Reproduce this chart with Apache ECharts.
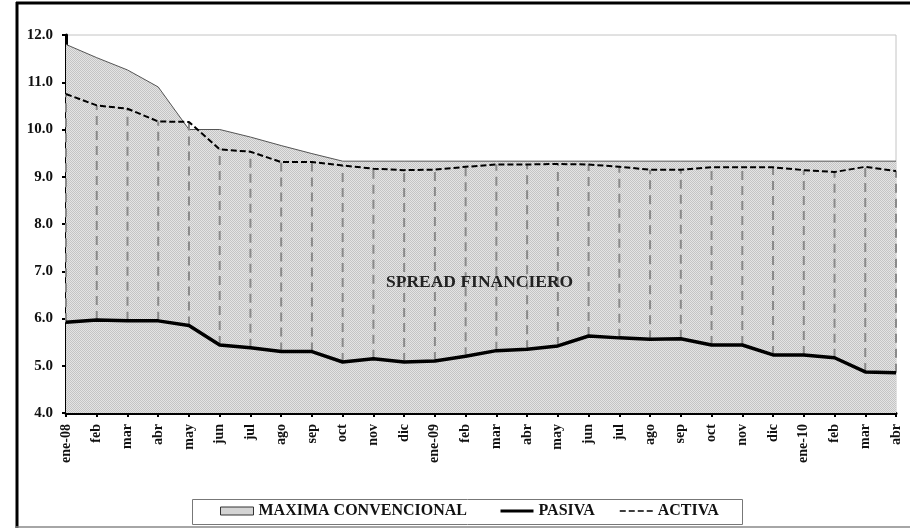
<!DOCTYPE html>
<html>
<head>
<meta charset="utf-8">
<script src="https://cdn.jsdelivr.net/npm/echarts@6/dist/echarts.min.js"></script>
<style>
  html, body { margin: 0; padding: 0; background: #fff; }
  #chart { width: 910px; height: 528px; }
</style>
</head>
<body>
<div id="chart"></div>
<script>
const months = ['ene-08', 'feb', 'mar', 'abr', 'may', 'jun', 'jul', 'ago', 'sep', 'oct', 'nov', 'dic',
    'ene-09', 'feb', 'mar', 'abr', 'may', 'jun', 'jul', 'ago', 'sep', 'oct', 'nov', 'dic',
    'ene-10', 'feb', 'mar', 'abr']

const maxima = [11.8, 11.52, 11.26, 10.9, 10.0, 10.0, 9.84, 9.66, 9.49, 9.33, 9.33, 9.33,
    9.33, 9.33, 9.33, 9.33, 9.33, 9.33, 9.33, 9.33, 9.33, 9.33, 9.33, 9.33,
    9.33, 9.33, 9.33, 9.33]

const activa = [10.75, 10.51, 10.44, 10.17, 10.16, 9.58, 9.53, 9.31, 9.31, 9.24, 9.17, 9.14,
    9.15, 9.21, 9.26, 9.26, 9.27, 9.26, 9.21, 9.15, 9.15, 9.2, 9.2, 9.2,
    9.14, 9.1, 9.21, 9.12]

const pasiva = [5.92, 5.97, 5.95, 5.95, 5.85, 5.44, 5.38, 5.3, 5.3, 5.08, 5.15, 5.08,
    5.1, 5.2, 5.32, 5.35, 5.42, 5.63, 5.59, 5.56, 5.57, 5.44, 5.44, 5.23,
    5.23, 5.17, 4.87, 4.85]

const yTicks = {min: 4, max: 12, step: 1}

// dotted grey fill, like the old excel pattern
const pat = document.createElement('canvas')
pat.width = 2
pat.height = 2
const pctx = pat.getContext('2d')
pctx.fillStyle = '#e4e4e4'
pctx.fillRect(0, 0, 2, 2)
pctx.fillStyle = '#c4c4c4'
pctx.fillRect(0, 0, 1, 1)
pctx.fillRect(1, 1, 1, 1)

const serif = '"Liberation Serif", "DejaVu Serif", serif'
const legendText = {fontFamily: serif, fontWeight: 'bold', fontSize: 16, color: '#111'}

function oneLegend(left, item) {
    return {
        left: left, top: 503, padding: 0,
        itemWidth: 33, itemHeight: 8, itemGap: 0,
        textStyle: legendText,
        data: [item]
    }
}

const chart = echarts.init(document.getElementById('chart'))
const option = {
    backgroundColor: '#fff',
    animation: false,
    textStyle: {fontFamily: serif},
    grid: {
        left: 66, right: 14, top: 35, bottom: 115,
        show: true, borderColor: '#c4c4c4', borderWidth: 1,
        containLabel: false
    },
    legend: [
        oneLegend(220, {name: 'MAXIMA CONVENCIONAL', icon: 'rect', itemStyle: {color: {image: pat, repeat: 'repeat'}, borderColor: '#333', borderWidth: 1}}),
        oneLegend(499, {name: 'PASIVA', itemStyle: {opacity: 0}, lineStyle: {width: 3}}),
        oneLegend(619, {name: 'ACTIVA', itemStyle: {opacity: 0}, lineStyle: {width: 1.5}})
    ],
    xAxis: {
        type: 'category',
        data: months,
        boundaryGap: false,
        axisLine: {lineStyle: {color: '#000', width: 3}},
        axisTick: {show: true, interval: 0, length: 4, lineStyle: {color: '#000', width: 2}},
        axisLabel: {
            interval: 0, rotate: 90, margin: 11,
            fontFamily: serif, fontWeight: 'bold', fontSize: 14, color: '#111'
        },
        splitLine: {show: false}
    },
    yAxis: {
        type: 'value',
        min: yTicks.min, max: yTicks.max, interval: yTicks.step,
        axisLine: {show: true, lineStyle: {color: '#000', width: 3}},
        axisTick: {show: true, length: 4, lineStyle: {color: '#000', width: 2}},
        axisLabel: {
            margin: 13,
            formatter: v => v.toFixed(1),
            fontFamily: serif, fontWeight: 'bold', fontSize: 15, color: '#111'
        },
        splitLine: {show: false}
    },
    graphic: [
        {type: 'line', shape: {x1: 16, y1: 3, x2: 910, y2: 3}, style: {stroke: '#000', lineWidth: 3}, z: 100},
        {type: 'line', shape: {x1: 17, y1: 2, x2: 17, y2: 528}, style: {stroke: '#000', lineWidth: 3}, z: 100},
        {type: 'line', shape: {x1: 16, y1: 527, x2: 910, y2: 527}, style: {stroke: '#888', lineWidth: 1.5}, z: 100},
        {type: 'rect', shape: {x: 192.5, y: 499.5, width: 550, height: 25}, style: {fill: 'none', stroke: '#777', lineWidth: 1}, z: 100},
        {
            type: 'text', left: 386, top: 273, z: 100,
            style: {text: 'SPREAD FINANCIERO', fontFamily: serif, fontWeight: 'bold', fontSize: 17.5, fill: '#222'}
        }
    ],
    series: [
        {
            name: 'MAXIMA CONVENCIONAL',
            type: 'line',
            data: maxima,
            symbol: 'none',
            z: 1,
            lineStyle: {color: '#555', width: 1},
            areaStyle: {color: {image: pat, repeat: 'repeat'}, opacity: 1, origin: 'start'}
        },
        {
            name: 'spread',
            type: 'custom',
            z: 2,
            silent: true,
            data: months.map((m, i) => [i, pasiva[i], activa[i]]),
            renderItem: function (params, api) {
                const a = api.coord([api.value(0), api.value(1)])
                const b = api.coord([api.value(0), api.value(2)])
                return {
                    type: 'line',
                    shape: {x1: a[0], y1: a[1], x2: b[0], y2: b[1]},
                    style: {stroke: '#8a8a8a', lineWidth: 2, lineDash: [9, 6]}
                }
            }
        },
        {
            name: 'ACTIVA',
            type: 'line',
            data: activa,
            symbol: 'none',
            z: 3,
            itemStyle: {color: '#000'},
            lineStyle: {color: '#000', width: 2, type: [6, 3]}
        },
        {
            name: 'PASIVA',
            type: 'line',
            data: pasiva,
            symbol: 'none',
            z: 4,
            itemStyle: {color: '#000'},
            lineStyle: {color: '#000', width: 3.5}
        }
    ]
}
chart.setOption(option)
</script>
</body>
</html>
